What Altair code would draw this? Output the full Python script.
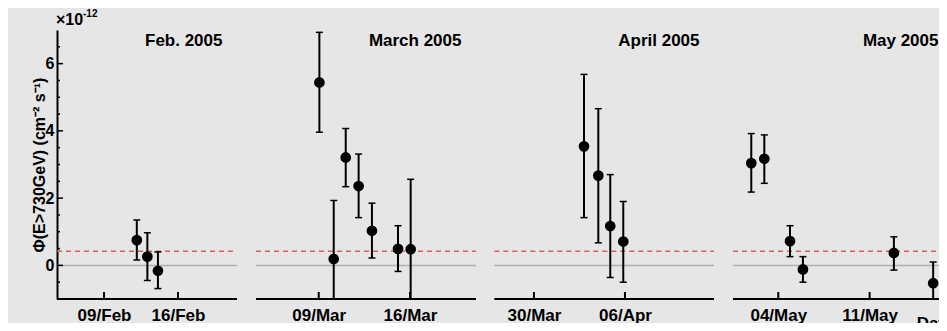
import datetime as _dt
import altair as alt
import pandas as pd

YEAR = 2005
FONT = "Liberation Sans"

# ---------------- data ----------------
panel_titles = ["Feb. 2005", "March 2005", "April 2005", "May 2005"]

feb_month = [2, 2, 2]
feb_day = [12.1, 13.1, 14.1]
feb_flux = [0.75, 0.26, -0.16]
feb_hi = [1.35, 0.97, 0.40]
feb_lo = [0.16, -0.45, -0.69]

mar_month = [3, 3, 3, 3, 3, 3, 3]
mar_day = [9.05, 10.15, 11.07, 12.06, 13.08, 15.08, 16.05]
mar_flux = [5.44, 0.19, 3.21, 2.36, 1.03, 0.49, 0.48]
mar_hi = [6.93, 1.93, 4.07, 3.31, 1.85, 1.18, 2.56]
mar_lo = [3.96, -1.6, 2.34, 1.42, 0.22, -0.18, -1.6]

apr_month = [4, 4, 4, 4]
apr_day = [2.85, 3.95, 4.87, 5.87]
apr_flux = [3.54, 2.67, 1.17, 0.71]
apr_hi = [5.68, 4.66, 2.70, 1.90]
apr_lo = [1.42, 0.67, -0.36, -0.50]

may_month = [5, 5, 5, 5, 5, 5]
may_day = [1.93, 2.93, 4.90, 5.89, 12.86, 15.87]
may_flux = [3.04, 3.17, 0.72, -0.12, 0.37, -0.53]
may_hi = [3.92, 3.88, 1.18, 0.26, 0.85, 0.10]
may_lo = [2.18, 2.44, 0.26, -0.50, -0.14, -1.3]

# x-axis tick dates (month, day)
tick_dates = [(2, 9), (2, 16), (3, 9), (3, 16), (3, 30), (4, 6), (5, 4), (5, 11)]

# date span shown by each panel (start, end)
panel_spans = [
    [(2, 4.55), (2, 21.58)],
    [(3, 4.19), (3, 21.06)],
    [(3, 26.95), (4, 12.85)],
    [(4, 30.53), (5, 17.39)],
]

y_range = [-1, 7]
y_major = [0, 2, 4, 6]
y_minor = [-0.5, 0.5, 1, 1.5, 2.5, 3, 3.5, 4.5, 5, 5.5, 6.5]
zero_level = 0
threshold_level = 0.42

scale_text = ["×10"]
scale_exp = ["-12"]
y_title = "Φ(E>730GeV) (cm⁻² s⁻¹)"
x_title = "Date"

# ---------------- layout constants ----------------
W = 882          # plot area width (the last panel runs past the edge and is cut)
H = 269
panel_px = [(0, 180), (199, 419), (437.3, 657), (676, 896)]


def doy(m, d):
    """Day number in 2005 (1 = 1 Jan), fractional part = time of day."""
    return (_dt.date(YEAR, m, 1) - _dt.date(YEAR, 1, 1)).days + d


# points table
rows = []
for months, days, flux, hi, lo in [
    (feb_month, feb_day, feb_flux, feb_hi, feb_lo),
    (mar_month, mar_day, mar_flux, mar_hi, mar_lo),
    (apr_month, apr_day, apr_flux, apr_hi, apr_lo),
    (may_month, may_day, may_flux, may_hi, may_lo),
]:
    for m, d, f, h, l in zip(months, days, flux, hi, lo):
        rows.append({"day": doy(m, d), "flux": f, "hi": h, "lo": l})
pts_df = pd.DataFrame(rows)

panels_df = pd.DataFrame({
    "x0": [doy(*s[0]) for s in panel_spans],
    "x1": [doy(*s[1]) for s in panel_spans],
    "title": panel_titles,
    "zero": [zero_level] * 4,
    "thr": [threshold_level] * 4,
})
tick_days = [doy(m, d) for m, d in tick_dates]
ticks_df = pd.DataFrame({"tick": tick_days})

# piecewise linear scale: each panel's dates map onto its own pixel span
x_domain = []
x_range = []
for span, px in zip(panel_spans, panel_px):
    x_domain += [doy(*span[0]), doy(*span[1])]
    x_range += [px[0], px[1]]
xscale = alt.Scale(domain=x_domain, range=x_range, nice=False, zero=False)
xaxis = alt.Axis(
    values=tick_days, orient="bottom",
    labelExpr=f"timeFormat(datetime({YEAR}, 0, datum.value), '%d/%b')",
    ticks=False, grid=False, domain=False, labelFlush=False, labelOverlap=False,
    labelFont=FONT, labelFontSize=17, labelFontWeight="bold", labelColor="black",
    labelPadding=8,
    title=x_title, titleFont=FONT, titleFontSize=17, titleFontWeight="bold",
    titleColor="black", titleX=panel_px[3][1], titleY=24, titleAlign="right",
    titleBaseline="middle",
)

yscale = alt.Scale(domain=y_range, nice=False, zero=False)
yaxis = alt.Axis(
    values=y_major, ticks=False, grid=False, domainColor="black", domainWidth=2,
    labelFont=FONT, labelFontSize=16, labelFontWeight="bold", labelColor="black",
    labelPadding=3,
    title=y_title, titleFont=FONT, titleFontSize=16, titleFontWeight="bold",
    titleColor="black", titleAngle=270, titleX=-12.5, titleBaseline="alphabetic",
)


def X(f):
    return alt.X(f, scale=xscale, axis=xaxis)


def Y(f):
    return alt.Y(f, scale=yscale, axis=yaxis)


pan = alt.Chart(panels_df)
zero = pan.mark_rule(color="#b0b0b0", strokeWidth=1.5).encode(
    x=X("x0:Q"), x2="x1:Q", y=Y("zero:Q"))
thr = pan.mark_rule(color="#d9605a", strokeWidth=1.5, strokeDash=[5, 4]).encode(
    x=X("x0:Q"), x2="x1:Q", y=Y("thr:Q"))
xline = pan.mark_rule(color="black", strokeWidth=2).encode(
    x=X("x0:Q"), x2="x1:Q", y=alt.value(H))
ttl = pan.mark_text(align="right", baseline="alphabetic", dx=-14.5, font=FONT,
                    fontSize=17, fontWeight="bold", color="black").encode(
    x=X("x1:Q"), y=alt.value(15.7), text="title:N")

base = alt.Chart(pts_df)
err = base.mark_rule(color="black", strokeWidth=2, clip=True).encode(
    x=X("day:Q"), y=Y("lo:Q"), y2="hi:Q")
cap_hi = base.mark_tick(color="black", orient="horizontal", size=7, thickness=1.5,
                        clip=True, opacity=1).encode(x=X("day:Q"), y=Y("hi:Q"))
cap_lo = base.mark_tick(color="black", orient="horizontal", size=7, thickness=1.5,
                        clip=True, opacity=1).encode(x=X("day:Q"), y=Y("lo:Q"))
pts = base.mark_circle(color="black", size=115, opacity=1).encode(
    x=X("day:Q"), y=Y("flux:Q"))

xt = alt.Chart(ticks_df).mark_rule(color="black", strokeWidth=2).encode(
    x=X("tick:Q"), y=alt.value(H - 7), y2=alt.value(H))

maj = alt.Chart(pd.DataFrame({"v": y_major})).mark_rule(
    color="black", strokeWidth=1.5).encode(y=Y("v:Q"), x=alt.value(0), x2=alt.value(6))
mnr = alt.Chart(pd.DataFrame({"v": y_minor})).mark_rule(
    color="black", strokeWidth=1.5).encode(y=Y("v:Q"), x=alt.value(0), x2=alt.value(3))
s1 = alt.Chart(pd.DataFrame({"t": scale_text})).mark_text(
    align="left", baseline="alphabetic", font=FONT, fontSize=16,
    fontWeight="bold", color="black").encode(
    x=alt.value(-1), y=alt.value(-5), text="t:N")
s2 = alt.Chart(pd.DataFrame({"t": scale_exp})).mark_text(
    align="left", baseline="alphabetic", font=FONT, fontSize=10,
    fontWeight="bold", color="black").encode(
    x=alt.value(26), y=alt.value(-13.5), text="t:N")

chart = alt.layer(
    zero, thr, xline, err, cap_hi, cap_lo, pts, xt, ttl, maj, mnr, s1, s2
).properties(
    width=W, height=H,
    autosize=alt.AutoSizeParams(type="none"),
    padding={"left": 49, "top": 22, "right": 0, "bottom": 24},
    background="#e6e6e6",
).configure_view(stroke=None)

chart.save("out.html", embed_options={"renderer": "svg", "actions": False})
